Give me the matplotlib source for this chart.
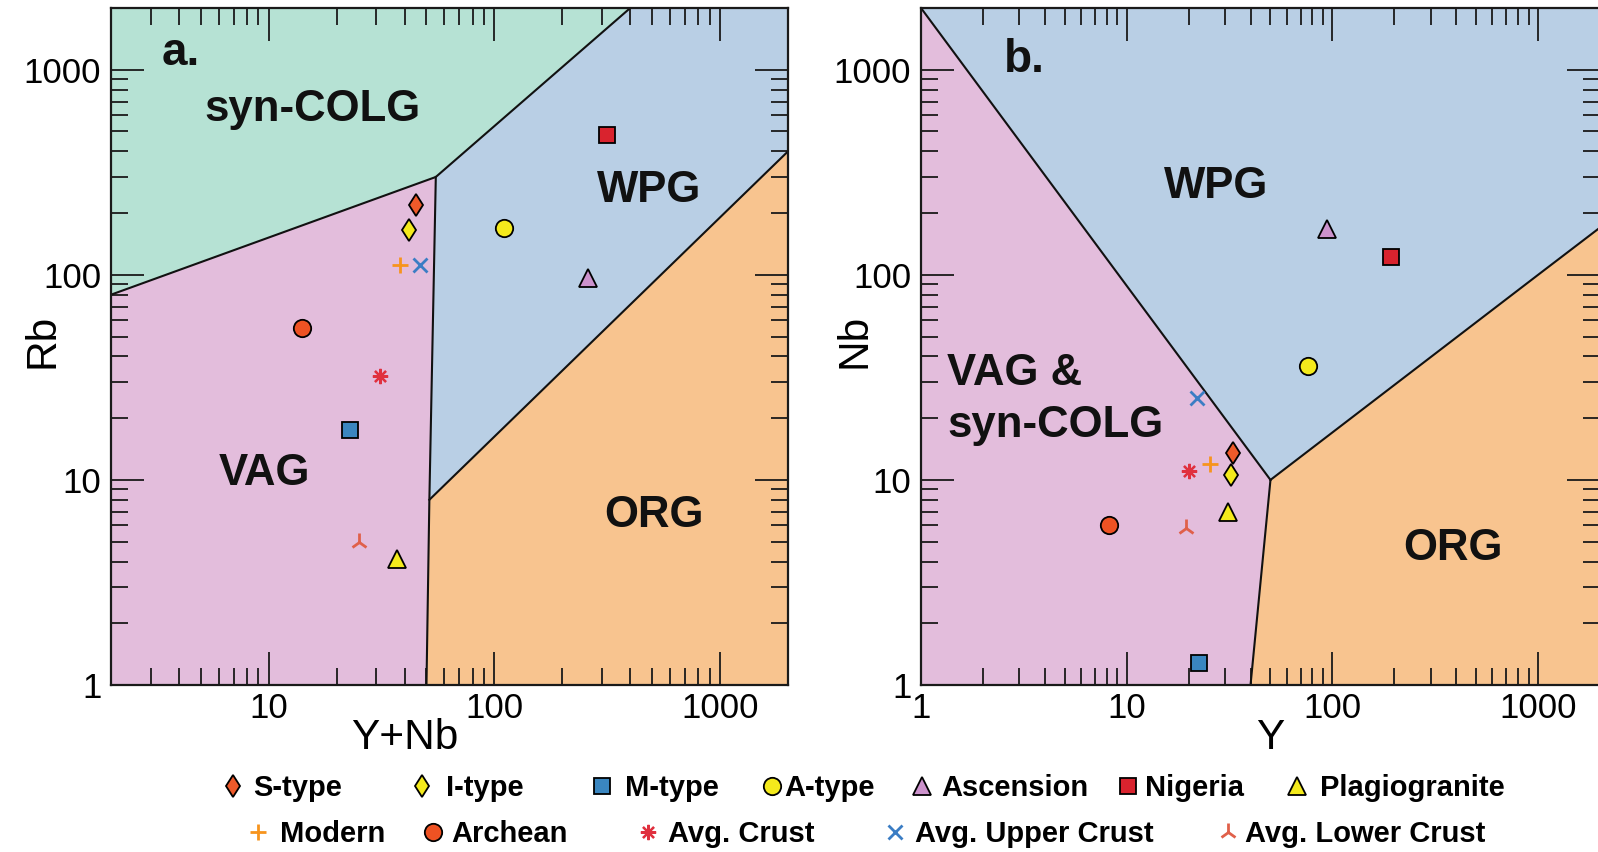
import matplotlib
matplotlib.use("Agg")
import matplotlib.pyplot as plt
from matplotlib.lines import Line2D
from matplotlib.ticker import FixedLocator, NullFormatter, FixedFormatter

plt.rcParams['font.family'] = ['Liberation Sans', 'DejaVu Sans']

# ---------------- data ----------------
series = ["S-type", "I-type", "M-type", "A-type", "Ascension", "Nigeria",
          "Plagiogranite", "Modern", "Archean", "Avg. Crust",
          "Avg. Upper Crust", "Avg. Lower Crust"]

# panel a : Rb vs Y+Nb
a_ynb = [45, 42, 23, 110, 260, 315, 37, 38, 14, 31, 47, 25]
a_rb = [220, 165, 17.5, 170, 97, 480, 4.1, 112, 55, 32, 112, 5]

# panel b : Nb vs Y
b_y = [33, 32, 22.5, 76, 94, 192, 31, 25.5, 8.2, 20, 22, 19.5]
b_nb = [13.5, 10.6, 1.28, 36, 167, 122, 7, 12, 6, 11, 25, 5.8]

# discrimination field boundaries (Pearce et al. 1984)
a_xlim = (2, 2000)
a_ylim = (1, 2000)
a_syncolg_x = [2, 55, 400, 2]
a_syncolg_y = [80, 300, 2000, 2000]
a_vag_x = [2, 50, 51.5, 55, 2]
a_vag_y = [1, 1, 8, 300, 80]
a_wpg_x = [55, 400, 2000, 2000, 51.5]
a_wpg_y = [300, 2000, 2000, 400, 8]
a_org_x = [50, 2000, 2000, 51.5]
a_org_y = [1, 1, 400, 8]
a_lines = [([2, 55, 400], [80, 300, 2000]),
           ([55, 51.5, 50], [300, 8, 1]),
           ([51.5, 2000], [8, 400])]

b_xlim = (1, 2000)
b_ylim = (1, 2000)
b_vag_x = [1, 40, 50, 1]
b_vag_y = [1, 1, 10, 2000]
b_wpg_x = [1, 2000, 2000, 1000, 50]
b_wpg_y = [2000, 2000, 170, 100, 10]
b_org_x = [40, 2000, 2000, 1000, 50]
b_org_y = [1, 1, 170, 100, 10]
b_lines = [([1, 50], [2000, 10]),
           ([50, 40], [10, 1]),
           ([50, 1000, 2000], [10, 100, 170])]

major_ticks = [1, 10, 100, 1000]
major_labels = ["1", "10", "100", "1000"]

# ---------------- styles ----------------
C_GREEN = '#B6E2D4'
C_PINK = '#E3BDDC'
C_BLUE = '#B9CFE5'
C_ORANGE = '#F8C48F'

styles = [
    dict(marker='d', color='#EE5A2A', ms=11.5, mec='k', mew=1.3),
    dict(marker='d', color='#F4EA1C', ms=11.5, mec='k', mew=1.3),
    dict(marker='s', color='#3A86C0', ms=12, mec='k', mew=1.3),
    dict(marker='o', color='#F4EA1C', ms=12.5, mec='k', mew=1.3),
    dict(marker='^', color='#CC92CC', ms=13, mec='k', mew=1.3),
    dict(marker='s', color='#D9232E', ms=12, mec='k', mew=1.3),
    dict(marker='^', color='#F4EA1C', ms=13, mec='k', mew=1.3),
    dict(marker='+', color='#F7941D', ms=11, mew=2.0),
    dict(marker='o', color='#EE5223', ms=12.5, mec='k', mew=1.3),
    dict(marker=(8, 2, 0), color='#E0313F', ms=11, mew=1.6),
    dict(marker='x', color='#3B7DC4', ms=10.5, mew=2.0),
    dict(marker='2', color='#E0604A', ms=13, mew=2.0),
]

W, H = 1598, 852
fig = plt.figure(figsize=(W / 100, H / 100), dpi=100)

ax_a = fig.add_axes([111 / W, (H - 685) / H, 677 / W, 677 / H])
ax_b = fig.add_axes([921 / W, (H - 685) / H, 679 / W, 677 / H])


def setup(ax, xlim, ylim):
    ax.set_xscale('log')
    ax.set_yscale('log')
    ax.set_xlim(*xlim)
    ax.set_ylim(*ylim)
    for axis, lim in ((ax.xaxis, xlim), (ax.yaxis, ylim)):
        majors = [t for t in major_ticks if lim[0] <= t <= lim[1]]
        labs = [l for t, l in zip(major_ticks, major_labels) if lim[0] <= t <= lim[1]]
        axis.set_major_locator(FixedLocator(majors))
        axis.set_major_formatter(FixedFormatter(labs))
        minors = [m * d for d in (1, 10, 100, 1000) for m in range(2, 10)
                  if lim[0] < m * d < lim[1]]
        axis.set_minor_locator(FixedLocator(minors))
        axis.set_minor_formatter(NullFormatter())
    ax.tick_params(which='both', direction='in', top=True, right=True,
                   color='#1a1a1a')
    ax.tick_params(which='major', length=24, width=1.3, labelsize=25)
    ax.tick_params(which='minor', length=12, width=1.3)
    ax.tick_params(axis='x', which='major', pad=5)
    ax.tick_params(axis='y', which='major', pad=7)
    for sp in ax.spines.values():
        sp.set_linewidth(1.6)
        sp.set_color('#1a1a1a')
        sp.set_zorder(4)


setup(ax_a, a_xlim, a_ylim)
setup(ax_b, b_xlim, b_ylim)

# fields
ax_a.fill(a_syncolg_x, a_syncolg_y, color=C_GREEN, lw=0, zorder=0)
ax_a.fill(a_vag_x, a_vag_y, color=C_PINK, lw=0, zorder=0)
ax_a.fill(a_wpg_x, a_wpg_y, color=C_BLUE, lw=0, zorder=0)
ax_a.fill(a_org_x, a_org_y, color=C_ORANGE, lw=0, zorder=0)
for xs, ys in a_lines:
    ax_a.plot(xs, ys, color='#111111', lw=1.5, zorder=2)

ax_b.fill(b_vag_x, b_vag_y, color=C_PINK, lw=0, zorder=0)
ax_b.fill(b_wpg_x, b_wpg_y, color=C_BLUE, lw=0, zorder=0)
ax_b.fill(b_org_x, b_org_y, color=C_ORANGE, lw=0, zorder=0)
for xs, ys in b_lines:
    ax_b.plot(xs, ys, color='#111111', lw=1.5, zorder=2)

# points
for i, name in enumerate(series):
    st = styles[i]
    ax_a.plot([a_ynb[i]], [a_rb[i]], ls='none', zorder=3, **st)
    ax_b.plot([b_y[i]], [b_nb[i]], ls='none', zorder=3, **st)

# field labels
bold = dict(fontweight='bold', color='#111111')
ax_a.text(0.0753, 0.9158, "a.", transform=ax_a.transAxes, fontsize=33, ha='left', va='baseline', **bold)
ax_a.text(0.2976, 0.8331, "syn-COLG", transform=ax_a.transAxes, fontsize=31.5, ha='center', va='baseline', **bold)
ax_a.text(0.7947, 0.7134, "WPG", transform=ax_a.transAxes, fontsize=31.5, ha='center', va='baseline', **bold)
ax_a.text(0.2260, 0.2954, "VAG", transform=ax_a.transAxes, fontsize=31.5, ha='center', va='baseline', **bold)
ax_a.text(0.8020, 0.2334, "ORG", transform=ax_a.transAxes, fontsize=31.5, ha='center', va='baseline', **bold)

ax_b.text(0.1222, 0.9055, "b.", transform=ax_b.transAxes, fontsize=33, ha='left', va='baseline', **bold)
ax_b.text(0.4352, 0.7194, "WPG", transform=ax_b.transAxes, fontsize=31.5, ha='center', va='baseline', **bold)
ax_b.text(0.0383, 0.4431, "VAG &", transform=ax_b.transAxes, fontsize=31.5, ha='left', va='baseline', **bold)
ax_b.text(0.0383, 0.3663, "syn-COLG", transform=ax_b.transAxes, fontsize=31.5, ha='left', va='baseline', **bold)
ax_b.text(0.7842, 0.1846, "ORG", transform=ax_b.transAxes, fontsize=31.5, ha='center', va='baseline', **bold)

# axis labels
ax_a.set_xlabel("Y+Nb", fontsize=30.5)
ax_a.xaxis.set_label_coords(0.434, -0.049)
ax_a.set_ylabel("Rb", fontsize=30.5)
ax_a.yaxis.set_label_coords(-0.072, 0.508)
ax_b.set_xlabel("Y", fontsize=30.5)
ax_b.xaxis.set_label_coords(0.514, -0.049)
ax_b.set_ylabel("Nb", fontsize=30.5)
ax_b.yaxis.set_label_coords(-0.068, 0.508)

# legend (one entry per slot, as laid out in the reference)
leg_row = [0, 0, 0, 0, 0, 0, 0, 1, 1, 1, 1, 1]
leg_marker_x = [233, 422, 602, 772, 922, 1128, 1297, 258, 433, 648, 895, 1228]
leg_text_x = [253, 446, 625, 784, 941, 1145, 1320, 280, 451, 668, 915, 1245]
row_y = [788, 834]
leg_fs = 21
fs_px = leg_fs * 100 / 72
hl = 0.8
for i, name in enumerate(series):
    st = dict(styles[i])
    h = Line2D([], [], ls='none', **st)
    mx = leg_marker_x[i]
    xl = mx - hl * fs_px / 2
    htp = max(0.0, (leg_text_x[i] - mx - hl * fs_px / 2) / fs_px)
    fig.legend(handles=[h], labels=[name], loc='center left',
               bbox_to_anchor=(xl / W, 1 - row_y[leg_row[i]] / H),
               bbox_transform=fig.transFigure, frameon=False,
               borderpad=0, borderaxespad=0, handlelength=hl,
               handletextpad=htp, prop=dict(weight='bold', size=leg_fs))

fig.savefig("out.png", dpi=100)
